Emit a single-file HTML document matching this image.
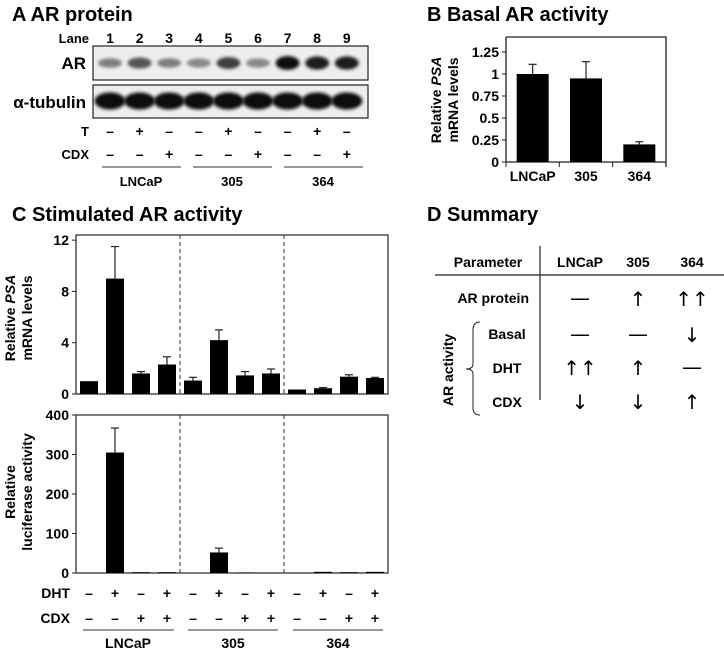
<!DOCTYPE html>
<html><head><meta charset="utf-8"><style>
html,body{margin:0;padding:0;background:#fff}
svg{display:block;font-family:"Liberation Sans",Arial,sans-serif;font-weight:bold}
</style></head><body>
<svg id="fig" width="724" height="653" viewBox="0 0 724 653" xmlns="http://www.w3.org/2000/svg">
<defs><filter id="blur" x="-20%" y="-50%" width="140%" height="200%"><feGaussianBlur stdDeviation="1.6"/></filter></defs>
<!-- Panel A -->
<g>
<text x="12" y="21" font-size="20">A  AR protein</text>
<text x="89" y="43" font-size="13" text-anchor="end">Lane</text>
<g id="laneNums"></g>
<text x="86" y="69" font-size="17" text-anchor="end">AR</text>
<text x="86" y="108" font-size="17" text-anchor="end">α-tubulin</text>
<rect x="93" y="46" width="275" height="34" fill="#eeeeee" stroke="#222" stroke-width="1.2"/>
<rect x="93" y="85" width="275" height="33" fill="#eeeeee" stroke="#222" stroke-width="1.2"/>
<g id="bands"></g>
<text x="89" y="136" font-size="13" text-anchor="end">T</text>
<text x="89" y="159" font-size="13" text-anchor="end">CDX</text>
<g id="aSigns"></g>
<g stroke="#333" stroke-width="1">
<line x1="102" y1="167" x2="181" y2="167"/>
<line x1="193" y1="167" x2="272" y2="167"/>
<line x1="284" y1="167" x2="363" y2="167"/>
</g>
<text x="141" y="186" font-size="13" text-anchor="middle">LNCaP</text>
<text x="232" y="186" font-size="13" text-anchor="middle">305</text>
<text x="323" y="186" font-size="13" text-anchor="middle">364</text>
</g>
<!-- Panel B -->
<g>
<text x="427" y="21" font-size="20">B  Basal AR activity</text>
<text transform="translate(441,100) rotate(-90)" font-size="14" text-anchor="middle">Relative <tspan font-style="italic">PSA</tspan></text>
<text transform="translate(458,100) rotate(-90)" font-size="14" text-anchor="middle">mRNA levels</text>
<g id="chartB"></g>
</g>
<!-- Panel C -->
<g>
<text x="12" y="221" font-size="20">C  Stimulated AR activity</text>
<text transform="translate(15,318) rotate(-90)" font-size="14" text-anchor="middle">Relative <tspan font-style="italic">PSA</tspan></text>
<text transform="translate(32,318) rotate(-90)" font-size="14" text-anchor="middle">mRNA levels</text>
<text transform="translate(15,492) rotate(-90)" font-size="14" text-anchor="middle">Relative</text>
<text transform="translate(32,492) rotate(-90)" font-size="14" text-anchor="middle">luciferase activity</text>
<g id="chartC1"></g>
<g id="chartC2"></g>
<text x="70" y="598" font-size="14" text-anchor="end">DHT</text>
<text x="70" y="623" font-size="14" text-anchor="end">CDX</text>
<g id="cSigns"></g>
<g stroke="#333" stroke-width="1">
<line x1="83" y1="630" x2="174" y2="630"/>
<line x1="188" y1="630" x2="278" y2="630"/>
<line x1="293" y1="630" x2="383" y2="630"/>
</g>
<text x="128" y="648" font-size="14" text-anchor="middle">LNCaP</text>
<text x="233" y="648" font-size="14" text-anchor="middle">305</text>
<text x="338" y="648" font-size="14" text-anchor="middle">364</text>
</g>
<!-- Panel D -->
<g font-size="14">
<text x="427" y="221" font-size="20">D  Summary</text>
<line x1="540" y1="246" x2="540" y2="400" stroke="#222" stroke-width="1.2"/>
<line x1="435" y1="275" x2="724" y2="275" stroke="#222" stroke-width="1.2"/>
<text x="488" y="267" text-anchor="middle">Parameter</text>
<text x="580" y="267" text-anchor="middle">LNCaP</text>
<text x="638" y="267" text-anchor="middle">305</text>
<text x="692" y="267" text-anchor="middle">364</text>
<text x="529" y="303" text-anchor="end">AR protein</text>
<text x="507" y="339" text-anchor="middle">Basal</text>
<text x="507" y="373" text-anchor="middle">DHT</text>
<text x="507" y="407" text-anchor="middle">CDX</text>
<text transform="translate(453,370) rotate(-90)" text-anchor="middle">AR activity</text>
<path d="M480,322 Q473,322 473,330 L473,364 Q473,369 466,369 Q473,369 473,374 L473,408 Q473,415 480,415" fill="none" stroke="#222" stroke-width="1"/>
<g font-weight="normal" font-size="20" text-anchor="middle" font-family="'DejaVu Sans',sans-serif">
<text x="580" y="305">—</text>
<text x="638" y="306">↑</text>
<text x="692" y="306">↑↑</text>
<text x="580" y="341">—</text>
<text x="638" y="341">—</text>
<text x="692" y="342">↓</text>
<text x="580" y="375">↑↑</text>
<text x="638" y="375">↑</text>
<text x="692" y="374">—</text>
<text x="580" y="409">↓</text>
<text x="638" y="409">↓</text>
<text x="692" y="409">↑</text>
</g>
</g>
</svg>
<script>
// Panel A data
const laneNumbers = ["1","2","3","4","5","6","7","8","9"];
const arIntensity = [0.45,0.65,0.45,0.4,0.75,0.4,0.98,0.9,0.9];
const tubulinIntensity = [1,1,1,1,1,1,1,1,1];
const tSigns = ["–","+","–","–","+","–","–","+","–"];
const cdxSignsA = ["–","–","+","–","–","+","–","–","+"];
// Panel B data
const basalCategories = ["LNCaP","305","364"];
const basalValues = [1.0,0.95,0.2];
const basalErrors = [0.11,0.19,0.03];
const basalTicks = [0,0.25,0.5,0.75,1,1.25];
const basalTickLabels = ["0","0.25","0.5","0.75","1","1.25"];
// Panel C data
const psaValues = [1.0,9.0,1.6,2.3, 1.05,4.2,1.45,1.6, 0.35,0.45,1.35,1.25];
const psaErrors = [0,2.5,0.15,0.6, 0.25,0.8,0.3,0.35, 0,0.05,0.15,0.05];
const psaTicks = [0,4,8,12];
const lucValues = [0.5,305,2,2, 0,52,1,0.5, 0.5,3,2,3];
const lucErrors = [0,62,0,0, 0,11,0,0, 0,0,0,0];
const lucTicks = [0,100,200,300,400];
const dhtSigns = ["–","+","–","+","–","+","–","+","–","+","–","+"];
const cdxSignsC = ["–","–","+","+","–","–","+","+","–","–","+","+"];

const NS="http://www.w3.org/2000/svg";
function mk(parent,tag,attrs){const e=document.createElementNS(NS,tag);for(const k in attrs)e.setAttribute(k,attrs[k]);parent.appendChild(e);return e;}

// Panel A
const laneX=i=>110+i*29.6;
const ln=document.getElementById('laneNums');
laneNumbers.forEach((t,i)=>{const e=mk(ln,'text',{x:laneX(i),y:43,'font-size':14,'text-anchor':'middle'});e.textContent=t;

});
const bd=document.getElementById('bands');
arIntensity.forEach((v,i)=>{const g=Math.round(220-210*v);const e=mk(bd,'ellipse',{cx:laneX(i),cy:63,rx:12,ry:3+4*v,fill:`rgb(${g},${g},${g})`,filter:'url(#blur)'});

});
tubulinIntensity.forEach((v,i)=>{const g=Math.round(40-25*v);const e=mk(bd,'ellipse',{cx:laneX(i),cy:101,rx:15.5,ry:8.5,fill:`rgb(${g},${g},${g})`,filter:'url(#blur)'});

});
const as=document.getElementById('aSigns');
tSigns.forEach((s,i)=>{const e=mk(as,'text',{x:laneX(i),y:136,'font-size':14,'text-anchor':'middle'});e.textContent=s;

});
cdxSignsA.forEach((s,i)=>{const e=mk(as,'text',{x:laneX(i),y:159,'font-size':14,'text-anchor':'middle'});e.textContent=s;

});

// Panel B chart
(function(){
const g=document.getElementById('chartB');
const x0=506,x1=666,yb=162,yt=37;const yS=v=>yb-v*88;
const slot=(x1-x0)/basalCategories.length;
mk(g,'path',{d:`M${x0},${yt} L${x1},${yt} L${x1},${yb+5} M${x0},${yt} L${x0},${yb} L${x1},${yb}`,fill:'none',stroke:'#222','stroke-width':1.3});
basalTicks.forEach((t,i)=>{const y=yS(t);mk(g,'line',{x1:x0-4,y1:y,x2:x0,y2:y,stroke:'#222'});
const e=mk(g,'text',{x:x0-7,y:y+5,'font-size':14,'text-anchor':'end'});e.textContent=basalTickLabels[i];

});
basalCategories.forEach((c,i)=>{const cx=x0+slot*(i+0.5);
mk(g,'line',{x1:x0+slot*i,y1:yb,x2:x0+slot*i,y2:yb+5,stroke:'#222'});
const eb=mk(g,'line',{x1:cx,y1:yS(basalValues[i]),x2:cx,y2:yS(basalValues[i]+basalErrors[i]),stroke:'#222','stroke-width':1.2});


mk(g,'line',{x1:cx-4,y1:yS(basalValues[i]+basalErrors[i]),x2:cx+4,y2:yS(basalValues[i]+basalErrors[i]),stroke:'#222','stroke-width':1.2});
const r=mk(g,'rect',{x:cx-16,y:yS(basalValues[i]),width:32,height:yb-yS(basalValues[i]),fill:'#000'});


const t=mk(g,'text',{x:cx,y:181,'font-size':14,'text-anchor':'middle'});t.textContent=c;

});
})();

// Panel C charts
function barChart(id,vals,errs,ticks,yb,yt,vmax,name){
const g=document.getElementById(id);const x0=76,x1=388;
const yS=v=>yb-v/vmax*(yb-yt);
const slot=(x1-x0)/vals.length;
mk(g,'rect',{x:x0,y:yt,width:x1-x0,height:yb-yt,fill:'none',stroke:'#333','stroke-width':1.3});
[4,8].forEach(k=>mk(g,'line',{x1:x0+slot*k,y1:yt,x2:x0+slot*k,y2:yb,stroke:'#333','stroke-dasharray':'4,3'}));
ticks.forEach(t=>{const y=yS(t);mk(g,'line',{x1:x0-4,y1:y,x2:x0,y2:y,stroke:'#222'});
const e=mk(g,'text',{x:x0-7,y:y+5,'font-size':14,'text-anchor':'end'});e.textContent=String(t);

});
vals.forEach((v,i)=>{const cx=x0+slot*(i+0.5);
if(errs[i]>0){const ye=yS(v+errs[i]);
const eb=mk(g,'line',{x1:cx,y1:yS(v),x2:cx,y2:ye,stroke:'#222','stroke-width':1.2});


mk(g,'line',{x1:cx-4,y1:ye,x2:cx+4,y2:ye,stroke:'#222','stroke-width':1.2});}
const r=mk(g,'rect',{x:cx-9,y:yS(v),width:18,height:Math.max(0,yb-yS(v)),fill:'#000'});

});
}
barChart('chartC1',psaValues,psaErrors,psaTicks,394,235,12.4,'psa');
barChart('chartC2',lucValues,lucErrors,lucTicks,573,415,400,'luciferase');
const cs=document.getElementById('cSigns');
dhtSigns.forEach((s,i)=>{const e=mk(cs,'text',{x:89+i*26,y:598,'font-size':14,'text-anchor':'middle'});e.textContent=s;

});
cdxSignsC.forEach((s,i)=>{const e=mk(cs,'text',{x:89+i*26,y:623,'font-size':14,'text-anchor':'middle'});e.textContent=s;

});
</script>
</body></html>
